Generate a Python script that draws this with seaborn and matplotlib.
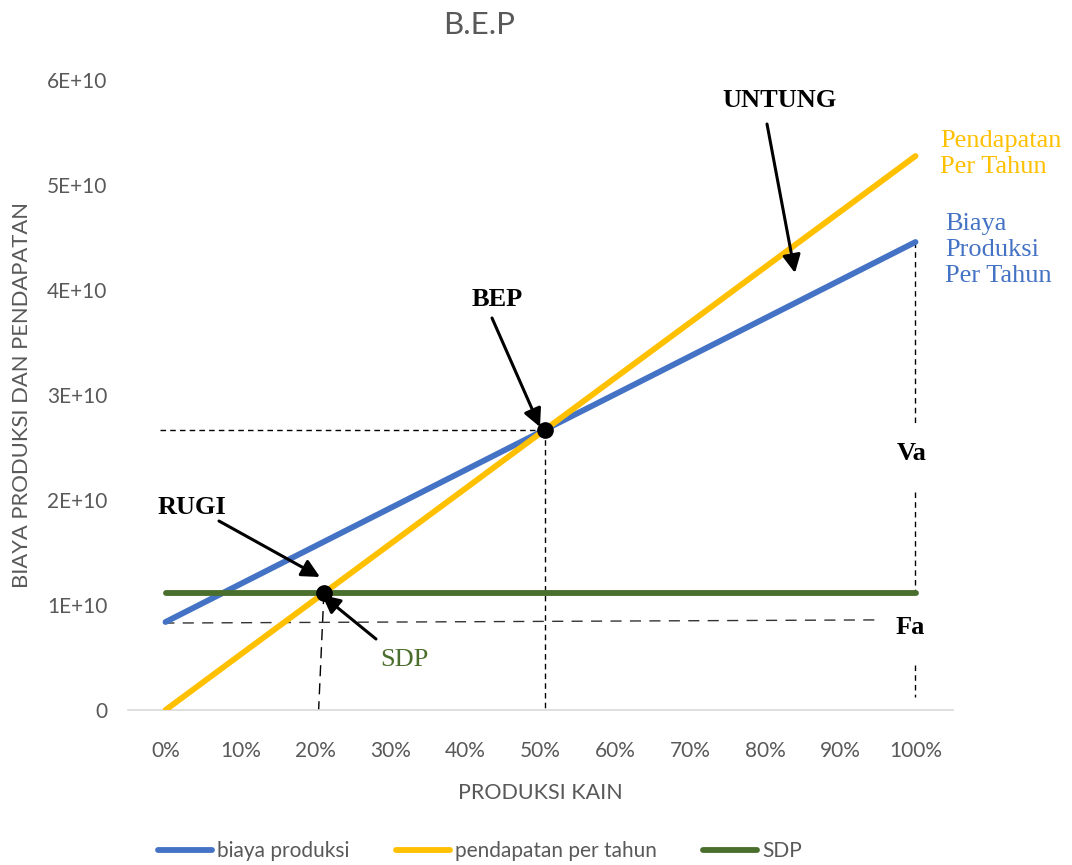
import numpy as np
import pandas as pd
import matplotlib
matplotlib.use("Agg")
import matplotlib.pyplot as plt
import seaborn as sns
from matplotlib.lines import Line2D

# Production level categories (share of capacity)
categories = ["0%", "10%", "20%", "30%", "40%", "50%", "60%", "70%", "80%", "90%", "100%"]

# Annual production cost, annual revenue and fixed-cost level (SDP)
biaya_produksi = [0.838e10, 1.200e10, 1.562e10, 1.924e10, 2.286e10, 2.648e10,
                  3.009e10, 3.371e10, 3.733e10, 4.095e10, 4.457e10]
pendapatan = [0.0, 0.528e10, 1.055e10, 1.583e10, 2.110e10, 2.638e10,
              3.166e10, 3.693e10, 4.221e10, 4.748e10, 5.276e10]
sdp = [1.114e10] * 11

y_ticks = [0, 1e10, 2e10, 3e10, 4e10, 5e10, 6e10]
y_tick_labels = ["0", "1E+10", "2E+10", "3E+10", "4E+10", "5E+10", "6E+10"]

series_names = ["biaya produksi", "pendapatan per tahun", "SDP"]
colors = ["#4472C4", "#FFC000", "#4A6E2C"]

sns.set_theme(style="white")
plt.rcParams["font.family"] = ["Lato", "DejaVu Sans"]

idx = np.arange(len(categories))
df = pd.DataFrame({
    "x": np.tile(idx, 3),
    "nilai": biaya_produksi + pendapatan + sdp,
    "seri": np.repeat(series_names, len(categories)),
})

fig = plt.figure(figsize=(10.72, 8.65), dpi=100)
ax = fig.add_axes([128 / 1072, 1 - 710 / 865, 825 / 1072, 630 / 865])

sns.lineplot(data=df, x="x", y="nilai", hue="seri", palette=colors,
             hue_order=series_names, linewidth=4.2, ax=ax, legend=False,
             solid_capstyle="round", zorder=3)

ax.set_xlim(-0.5, len(categories) - 0.5)
ax.set_ylim(0, 6e10)
ax.set_xticks(idx)
ax.set_xticklabels(categories)
ax.set_yticks(y_ticks)
ax.set_yticklabels(y_tick_labels)
gray = "#595959"
ax.tick_params(axis="both", length=0, labelsize=15, labelcolor=gray)
ax.tick_params(axis="y", pad=15)
ax.tick_params(axis="x", pad=22)
for side in ["top", "right", "left"]:
    ax.spines[side].set_visible(False)
ax.spines["bottom"].set_color("#D9D9D9")
ax.spines["bottom"].set_linewidth(1.2)
ax.grid(False)

ax.set_xlabel("PRODUKSI KAIN", fontsize=15.5, color=gray, labelpad=16)
ax.set_ylabel("")
fig.text(22 / 1072, 1 - 395 / 865, "BIAYA PRODUKSI DAN PENDAPATAN",
         rotation=90, ha="center", va="center", fontsize=15.8, color=gray)
fig.text(479 / 1072, 1 - 25 / 865, "B.E.P", ha="center", va="center",
         fontsize=22.5, color=gray)

# Break-even point: where revenue meets cost
b = np.array(biaya_produksi)
p = np.array(pendapatan)
s = np.array(sdp)
d = p - b
k = np.where(np.diff(np.sign(d)) != 0)[0][0]
t = d[k] / (d[k] - d[k + 1])
bep_x = idx[k] + t
bep_y = b[k] + t * (b[k + 1] - b[k])

# Shutdown point: where revenue meets the SDP level
d2 = p - s
k2 = np.where(np.diff(np.sign(d2)) != 0)[0][0]
t2 = d2[k2] / (d2[k2] - d2[k2 + 1])
sdp_x = idx[k2] + t2
sdp_y = s[k2]

ax.plot([bep_x, sdp_x], [bep_y, sdp_y], "o", color="black", markersize=11, zorder=5)

# Guide lines
dash_kw = dict(color="black", linewidth=1.0, zorder=2)
ax.plot([-0.07, bep_x], [bep_y, bep_y], linestyle=(0, (4, 3)), **dash_kw)
ax.plot([bep_x, bep_x], [bep_y, 0], linestyle=(0, (4, 3)), **dash_kw)
ax.plot([sdp_x, sdp_x - 0.07], [sdp_y, 0], linestyle=(0, (8, 5)), **dash_kw)
ax.plot([-0.03, 9.47], [biaya_produksi[0] - 0.01e10, biaya_produksi[0] + 0.02e10],
        linestyle=(0, (8, 6)), color="#333333", linewidth=1.0, zorder=2)
xe = idx[-1] - 0.01
for y0, y1 in [(biaya_produksi[-1], 2.71e10), (2.08e10, 1.07e10), (0.43e10, 0.12e10)]:
    ax.plot([xe, xe], [y0, y1], linestyle=(0, (4, 3)), **dash_kw)

# Labels and arrows
serif = ["Liberation Serif", "DejaVu Serif"]
arrow = dict(arrowstyle="-|>,head_length=0.9,head_width=0.45", color="black",
             linewidth=2.2, shrinkA=0, shrinkB=0)


def px(xp, yp):
    """Figure-pixel position to data coordinates."""
    return ax.transData.inverted().transform(
        fig.transFigure.transform((xp / 1072, 1 - yp / 865)))


def label(xp, yp, text, color="black", weight="bold", ha="center", **kw):
    x, y = px(xp, yp)
    ax.text(x, y, text, ha=ha, va="center", fontsize=19, color=color,
            fontweight=weight, family=serif, **kw)


def arrow_px(x0, y0, x1, y1):
    ax.annotate("", xy=tuple(px(x1, y1)), xytext=tuple(px(x0, y0)),
                arrowprops=arrow, annotation_clip=False)


fig.canvas.draw()

label(780, 101, "UNTUNG")
arrow_px(767, 124, 795, 273)
label(497, 300, "BEP")
arrow_px(492, 318, 540, 427)
label(192, 508, "RUGI")
arrow_px(219, 521, 320, 577)
label(404, 660, "SDP", color="#4A6E2C", weight="normal")
arrow_px(376, 639, 322, 595)
label(912, 453, "Va")
label(910, 628, "Fa")
label(940, 154, "Pendapatan\nPer Tahun", color="#FFC000", weight="normal",
      ha="left", linespacing=1.25)
label(945, 250, "Biaya\nProduksi\nPer Tahun", color="#4472C4", weight="normal",
      ha="left", linespacing=1.25)

# Legend along the bottom
handles = [Line2D([0], [0], color=c, linewidth=4.2, solid_capstyle="round") for c in colors]
fig.legend(handles, series_names, loc="center", bbox_to_anchor=(480 / 1072, 1 - 851 / 865),
           ncol=3, frameon=False, fontsize=15, labelcolor=gray, handlelength=2.6,
           handletextpad=0.25, columnspacing=2.2)

fig.savefig("out.png", dpi=100)
